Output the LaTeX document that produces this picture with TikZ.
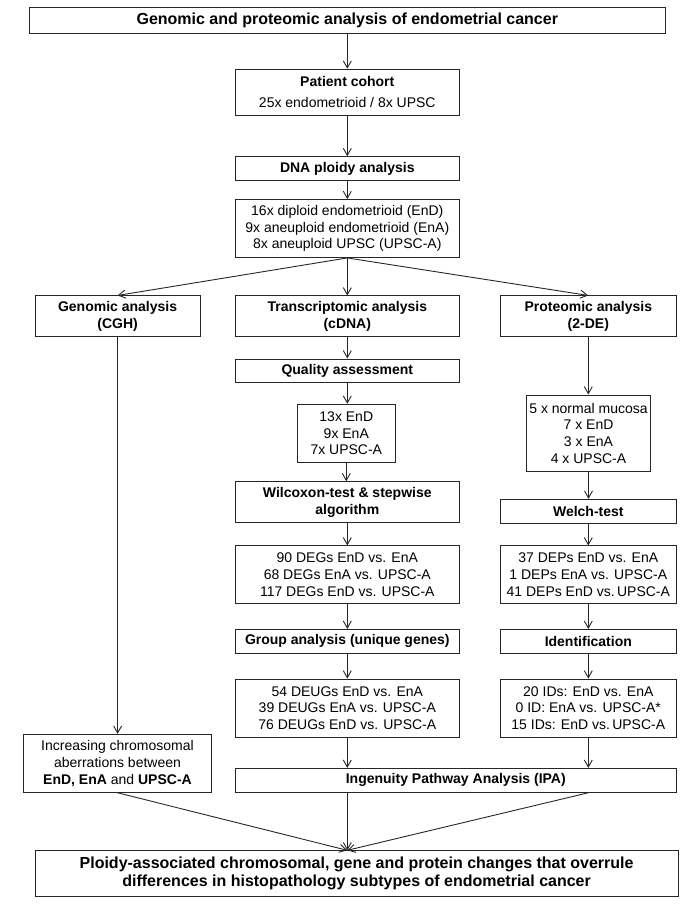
\documentclass[tikz,border=0pt]{standalone}
\usepackage{fontspec}
\setmainfont{Liberation Sans}
\usetikzlibrary{arrows.meta}
\begin{document}
\begin{tikzpicture}[x=1pt,y=-1pt,
		box/.style={draw=black!85, line width=0.9pt, align=center, inner sep=0pt, font=\fontsize{14}{16.8}\selectfont},
		head/.style={box, font=\bfseries\fontsize{14}{16.8}\selectfont},
		big/.style={box, font=\bfseries\fontsize{16}{18.3}\selectfont},
		colT/.style={minimum width=224pt},
		colP/.style={minimum width=176pt},
		arr/.style={draw=black!85, line width=0.9pt, -{Straight Barb[length=7pt,width=8pt]}}]
	\useasboundingbox (0,0) rectangle (685,904);
	% top part
	\node[big, minimum width=636pt, minimum height=26pt] (title) at (347.3,20) {Genomic and proteomic analysis of endometrial cancer};
	\node[box, colT, minimum height=46pt] (cohort) at (347.3,92.2) {\textbf{Patient cohort}\\[4.5pt]25x endometrioid / 8x UPSC};
	\node[head, colT, minimum height=24pt] (ploidy) at (347.3,168.7) {DNA ploidy analysis};
	\node[box, colT, minimum height=58pt] (groups) at (347.3,228.5) {16x diploid endometrioid (EnD)\\9x aneuploid endometrioid (EnA)\\8x aneuploid UPSC (UPSC-A)};
	% three branches
	\node[head, minimum width=165pt, minimum height=41pt] (cgh) at (117.6,316.4) {Genomic analysis\\(CGH)};
	\node[head, colT, minimum height=41pt] (cdna) at (347.3,316.4) {Transcriptomic analysis\\(cDNA)};
	\node[head, colP, minimum height=41pt] (twode) at (588.3,316.4) {Proteomic analysis\\(2-DE)};
	% transcriptome
	\node[head, colT, minimum height=23.5pt] (quality) at (347.3,370.7) {Quality assessment};
	\node[box, minimum width=98pt, minimum height=58pt] (arrays) at (346.3,433.2) {13x EnD\\9x EnA\\7x UPSC-A};
	\node[head, colT, minimum height=41pt] (wilcox) at (347.3,502.2) {Wilcoxon-test \& stepwise\\algorithm};
	\node[box, colT, minimum height=58pt] (degs) at (347.3,574.9) {90 DEGs EnD vs. EnA\\68 DEGs EnA vs. UPSC-A\\117 DEGs EnD vs. UPSC-A};
	\node[head, colT, minimum height=24pt] (unique) at (347.3,641.3) {Group analysis (unique genes)};
	\node[box, colT, minimum height=58pt] (deugs) at (347.3,708) {54 DEUGs EnD vs. EnA\\39 DEUGs EnA vs. UPSC-A\\76 DEUGs EnD vs. UPSC-A};
	% proteome
	\node[box, minimum width=124pt, minimum height=76.7pt] (gels) at (588.5,433.3) {5 x normal mucosa\\7 x EnD\\3 x EnA\\4 x UPSC-A};
	\node[head, colP, minimum height=24pt] (welch) at (588.3,511.3) {Welch-test};
	\node[box, colP, minimum height=58pt] (deps) at (588.3,574.9) {37 DEPs EnD vs. EnA\\1 DEPs EnA vs. UPSC-A\\41 DEPs EnD vs.\,UPSC-A};
	\node[head, colP, minimum height=24pt] (ident) at (588.3,641.3) {Identification};
	\node[box, colP, minimum height=58pt] (ids) at (588.3,708) {20 IDs: EnD vs. EnA\\0 ID: EnA vs. UPSC-A*\\15 IDs: EnD vs.\,UPSC-A};
	% bottom part
	\node[box, minimum width=187.6pt, minimum height=58pt] (chrom) at (117.5,763.3) {Increasing chromosomal\\aberrations between\\\textbf{EnD, EnA} and \textbf{UPSC-A}};
	\node[head, minimum width=441pt, minimum height=24pt] (ipa) at (455.8,780.3) {Ingenuity Pathway Analysis (IPA)};
	\node[big, minimum width=642.7pt, minimum height=45.3pt] (final) at (356.6,873.4) {Ploidy-associated chromosomal, gene and protein changes that overrule\\differences in histopathology subtypes of endometrial cancer};
	% arrows
	\foreach \a/\b in {title/cohort,cohort/ploidy,ploidy/groups,cgh/chrom,
		cdna/quality,quality/arrays,arrays/wilcox,wilcox/degs,degs/unique,unique/deugs,deugs/ipa,
		twode/gels,gels/welch,welch/deps,deps/ident,ident/ids,ids/ipa}
		\draw[arr] (\a.south) -- (\a.south |- \b.north);
	\foreach \b in {cgh,cdna,twode}
		\draw[arr] (groups.south) -- (\b.north);
	\coordinate (meet) at (deugs.south |- final.north);
	\draw[arr] (chrom.south) -- (meet);
	\draw[arr] (deugs.south |- ipa.south) -- (meet);
	\draw[arr] (ids.south |- ipa.south) -- (meet);
\end{tikzpicture}
\end{document}
